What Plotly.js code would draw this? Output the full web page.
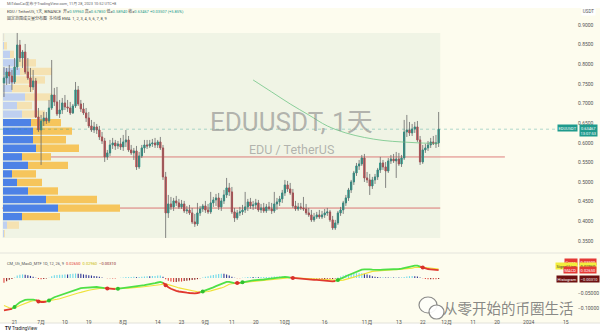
<!DOCTYPE html>
<html>
<head>
<meta charset="utf-8">
<script src="https://cdn.plot.ly/plotly-3.0.1.min.js"></script>
<style>
  html, body { margin: 0; padding: 0; background: #ffffff; }
  #chart { width: 600px; height: 334px; }
</style>
</head>
<body>
<div id="chart"></div>
<script>
// ---- EDU / TetherUS daily candles (Binance) ----
const firstDay = '2023-06-17';

const open = [
  0.7524,0.7651,0.7804,0.7702,0.7549,0.7931,0.8491,0.8160,0.8313,0.7804,
  0.7651,0.7422,0.7575,0.6658,0.6327,0.6556,0.6633,0.6556,0.6887,0.7218,
  0.7040,0.6735,0.6836,0.7015,0.6913,0.6887,0.6760,0.6938,0.7346,0.6989,
  0.6862,0.6760,0.6633,0.6429,0.6327,0.6404,0.6327,0.6149,0.6047,0.5640,
  0.5742,0.5945,0.5996,0.5920,0.5971,0.5894,0.6022,0.6073,0.5818,0.5742,
  0.5793,0.5385,0.5665,0.5869,0.5945,0.5920,0.5971,0.5996,0.5945,0.6022,
  0.5869,0.5131,0.4214,0.4443,0.4367,0.4520,0.4469,0.4367,0.4443,0.4265,
  0.4290,0.4214,0.3985,0.3934,0.4214,0.4316,0.4392,0.4290,0.4240,0.4469,
  0.4545,0.4596,0.4367,0.4520,0.4672,0.4851,0.4749,0.4240,0.4087,0.4214,
  0.4240,0.4290,0.4367,0.4494,0.4392,0.4418,0.4469,0.4290,0.4341,0.4265,
  0.4367,0.4316,0.4265,0.4443,0.4494,0.4571,0.4723,0.4927,0.4825,0.4723,
  0.4392,0.4316,0.4367,0.4341,0.4316,0.4214,0.4163,0.4036,0.4112,0.4163,
  0.4112,0.4163,0.4214,0.4240,0.4036,0.3832,0.3959,0.4214,0.4290,0.4469,
  0.4596,0.4800,0.5003,0.5232,0.5411,0.5462,0.5614,0.5105,0.5054,0.4901,
  0.5054,0.5131,0.5309,0.5487,0.5385,0.5283,0.5538,0.5589,0.5538,0.5589,
  0.5462,0.5614,0.6276,0.6327,0.6251,0.6353,0.6404,0.6073,0.5513,0.5818,
  0.5869,0.5945,0.6022,0.5971,0.5996
];
const high = [
  0.7931,0.7906,0.7982,0.7855,0.8160,0.8797,0.8619,0.8364,0.8517,0.8160,
  0.7906,0.7855,0.7651,0.6887,0.6709,0.6785,0.6785,0.7091,0.8109,0.7397,
  0.7422,0.7091,0.7142,0.7218,0.7091,0.7040,0.6989,0.7549,0.7447,0.7091,
  0.7015,0.6887,0.6785,0.6582,0.6531,0.6480,0.6429,0.6276,0.6124,0.5818,
  0.6073,0.6124,0.6073,0.6047,0.6124,0.6200,0.6327,0.6174,0.5945,0.5869,
  0.5920,0.5767,0.5945,0.6073,0.6073,0.6073,0.6098,0.6124,0.6073,0.6149,
  0.5945,0.5258,0.4672,0.4621,0.4596,0.4647,0.4571,0.4545,0.4520,0.4392,
  0.4418,0.4341,0.4189,0.4469,0.4392,0.4443,0.4520,0.4443,0.4749,0.4621,
  0.4698,0.4723,0.4596,0.4800,0.5105,0.4978,0.4876,0.4341,0.4290,0.4367,
  0.4418,0.4749,0.4571,0.4596,0.4520,0.4571,0.4545,0.4443,0.4469,0.4443,
  0.4494,0.4469,0.4749,0.4596,0.4647,0.4800,0.5054,0.5029,0.4978,0.4825,
  0.4520,0.4469,0.4469,0.4621,0.4443,0.4341,0.4290,0.4214,0.4240,0.4290,
  0.4265,0.4316,0.4341,0.4290,0.4138,0.4036,0.4265,0.4367,0.4520,0.4672,
  0.4851,0.5054,0.5283,0.5487,0.5563,0.5691,0.5716,0.5258,0.5207,0.5131,
  0.5207,0.5360,0.5640,0.5563,0.5513,0.5614,0.5691,0.5716,0.5767,0.5742,
  0.5691,0.6582,0.6709,0.6531,0.6480,0.6531,0.6556,0.6174,0.5945,0.5971,
  0.6047,0.6124,0.6174,0.6200,0.6785
];
const low = [
  0.7167,0.7473,0.7498,0.7346,0.7498,0.7855,0.8058,0.7906,0.7753,0.7600,
  0.7295,0.7346,0.6633,0.6276,0.5436,0.6429,0.6480,0.6505,0.6836,0.6938,
  0.6684,0.6633,0.6735,0.6836,0.6785,0.6709,0.6735,0.6887,0.6938,0.6785,
  0.6709,0.6531,0.6378,0.6276,0.6251,0.6225,0.6073,0.5971,0.5513,0.5563,
  0.5665,0.5844,0.5818,0.5844,0.5818,0.5793,0.5894,0.5767,0.5691,0.5563,
  0.5309,0.5334,0.5614,0.5742,0.5844,0.5869,0.5894,0.5869,0.5869,0.5818,
  0.5054,0.3577,0.4087,0.4290,0.4265,0.4392,0.4316,0.4316,0.4214,0.4189,
  0.4163,0.3934,0.3858,0.3883,0.4138,0.4240,0.4214,0.4189,0.4189,0.4367,
  0.4392,0.4290,0.4265,0.4443,0.4596,0.4647,0.4189,0.3985,0.4036,0.4138,
  0.4163,0.4214,0.4265,0.4316,0.4290,0.4316,0.4240,0.4214,0.4214,0.4214,
  0.4265,0.4189,0.4214,0.4290,0.4392,0.4469,0.4647,0.4749,0.4672,0.4341,
  0.4265,0.4265,0.4290,0.4265,0.4163,0.4112,0.3985,0.3985,0.4061,0.4061,
  0.4061,0.4087,0.4138,0.3985,0.3781,0.3781,0.3909,0.4138,0.4189,0.4392,
  0.4520,0.4723,0.4927,0.5156,0.5309,0.5411,0.5003,0.4978,0.4672,0.4825,
  0.4952,0.5054,0.5232,0.5309,0.4851,0.5232,0.5462,0.5487,0.5105,0.5411,
  0.5385,0.5563,0.6149,0.6174,0.6174,0.6251,0.6022,0.5436,0.5462,0.5742,
  0.5793,0.5869,0.5945,0.5869,0.5894
];
const close = [
  0.7651,0.7804,0.7702,0.7549,0.7931,0.8491,0.8160,0.8313,0.7804,0.7651,
  0.7422,0.7575,0.6658,0.6327,0.6556,0.6633,0.6556,0.6887,0.7218,0.7040,
  0.6735,0.6836,0.7015,0.6913,0.6887,0.6760,0.6938,0.7346,0.6989,0.6862,
  0.6760,0.6633,0.6429,0.6327,0.6404,0.6327,0.6149,0.6047,0.5640,0.5742,
  0.5945,0.5996,0.5920,0.5971,0.5894,0.6022,0.6073,0.5818,0.5742,0.5793,
  0.5385,0.5665,0.5869,0.5945,0.5920,0.5971,0.5996,0.5945,0.6022,0.5869,
  0.5131,0.4214,0.4443,0.4367,0.4520,0.4469,0.4367,0.4443,0.4265,0.4290,
  0.4214,0.3985,0.3934,0.4214,0.4316,0.4392,0.4290,0.4240,0.4469,0.4545,
  0.4596,0.4367,0.4520,0.4672,0.4851,0.4749,0.4240,0.4087,0.4214,0.4240,
  0.4290,0.4367,0.4494,0.4392,0.4418,0.4469,0.4290,0.4341,0.4265,0.4367,
  0.4316,0.4265,0.4443,0.4494,0.4571,0.4723,0.4927,0.4825,0.4723,0.4392,
  0.4316,0.4367,0.4341,0.4316,0.4214,0.4163,0.4036,0.4112,0.4163,0.4112,
  0.4163,0.4214,0.4240,0.4036,0.3832,0.3959,0.4214,0.4290,0.4469,0.4596,
  0.4800,0.5003,0.5232,0.5411,0.5462,0.5614,0.5105,0.5054,0.4901,0.5054,
  0.5131,0.5309,0.5487,0.5385,0.5283,0.5538,0.5589,0.5538,0.5589,0.5462,
  0.5614,0.6276,0.6327,0.6251,0.6353,0.6404,0.6073,0.5513,0.5818,0.5869,
  0.5945,0.6022,0.5971,0.5996,0.63467
];

// long EMA overlay (only drawn from mid-September)
const emaDates  = ['2023-09-19','2023-09-26','2023-10-03','2023-10-10','2023-10-17','2023-10-24',
                   '2023-10-31','2023-11-07','2023-11-14','2023-11-21','2023-11-28'];
const emaValues = [0.7600,0.7295,0.6989,0.6709,0.6429,0.6251,0.6136,0.6060,0.6022,0.5996,0.5983];

// fixed range volume profile, 24 rows from the range low to the range high (M USDT)
const profileUp   = [0.5,2,9.5,27.5,21.5,12.5,7,4.5,12.5,9.5,16.5,15,15,14,9.5,7,11,4.5,5.5,8.5,7,3.5,0.5,0.3];
const profileDown = [0.5,6,19,31,25.5,15,12.5,12,20,14.5,21.5,16.5,19.5,15,11.5,7.5,13.5,10.5,15.5,16,9.5,2,1.5,0.3];

// horizontal level drawn on the chart
const levelPrice = 0.5640;
const levelFrom = '2023-06-20';
const levelTo = '2023-12-23';

// CM_Ult_MacD_MTF (12, 26, 9)
const macdLine = [
  -0.108,-0.107,-0.105,-0.103,-0.097,-0.088,-0.081,-0.076,-0.073,-0.072,
  -0.071,-0.072,-0.074,-0.078,-0.080,-0.080,-0.079,-0.075,-0.069,-0.064,
  -0.061,-0.058,-0.055,-0.052,-0.049,-0.046,-0.042,-0.038,-0.036,-0.034,
  -0.033,-0.032,-0.032,-0.031,-0.030,-0.030,-0.031,-0.032,-0.034,-0.035,
  -0.036,-0.037,-0.037,-0.036,-0.035,-0.033,-0.032,-0.031,-0.030,-0.029,
  -0.029,-0.028,-0.026,-0.024,-0.022,-0.021,-0.019,-0.017,-0.015,-0.013,
  -0.016,-0.024,-0.031,-0.036,-0.040,-0.043,-0.045,-0.047,-0.048,-0.049,
  -0.050,-0.051,-0.051,-0.050,-0.048,-0.045,-0.042,-0.039,-0.035,-0.031,
  -0.027,-0.023,-0.019,-0.016,-0.013,-0.013,-0.015,-0.017,-0.017,-0.016,
  -0.014,-0.012,-0.010,-0.009,-0.008,-0.007,-0.007,-0.006,-0.005,-0.004,
  -0.003,-0.001,0.001,0.002,0.003,0.004,0.004,0.003,0.001,0.000,
  -0.001,-0.001,-0.002,-0.002,-0.003,-0.004,-0.005,-0.006,-0.006,-0.007,
  -0.008,-0.009,-0.009,-0.010,-0.011,-0.010,-0.007,-0.003,0.001,0.006,
  0.010,0.014,0.018,0.022,0.025,0.028,0.029,0.030,0.029,0.028,
  0.027,0.027,0.027,0.028,0.028,0.028,0.029,0.029,0.030,0.030,
  0.031,0.033,0.036,0.038,0.040,0.041,0.041,0.038,0.035,0.032,
  0.030,0.029,0.028,0.027,0.0265
];
const signalLine = [
  -0.092,-0.096,-0.099,-0.100,-0.099,-0.096,-0.092,-0.088,-0.084,-0.081,
  -0.078,-0.076,-0.075,-0.075,-0.076,-0.077,-0.077,-0.076,-0.075,-0.073,
  -0.071,-0.069,-0.066,-0.064,-0.061,-0.059,-0.056,-0.053,-0.050,-0.048,
  -0.045,-0.043,-0.041,-0.039,-0.037,-0.036,-0.035,-0.034,-0.034,-0.034,
  -0.035,-0.035,-0.035,-0.036,-0.036,-0.035,-0.035,-0.034,-0.033,-0.033,
  -0.032,-0.031,-0.030,-0.029,-0.028,-0.027,-0.026,-0.024,-0.023,-0.021,
  -0.020,-0.020,-0.022,-0.024,-0.027,-0.030,-0.033,-0.035,-0.038,-0.040,
  -0.042,-0.044,-0.045,-0.046,-0.047,-0.047,-0.046,-0.045,-0.043,-0.041,
  -0.039,-0.036,-0.033,-0.030,-0.025,-0.021,-0.019,-0.018,-0.0165,-0.0155,
  -0.015,-0.014,-0.013,-0.012,-0.011,-0.010,-0.0095,-0.009,-0.008,-0.007,
  -0.006,-0.005,-0.004,-0.003,-0.002,-0.001,0.000,0.001,0.001,0.001,
  0.0005,0.000,-0.0005,-0.001,-0.0015,-0.002,-0.003,-0.0035,-0.004,-0.0045,
  -0.005,-0.006,-0.0065,-0.007,-0.008,-0.0085,-0.0085,-0.008,-0.007,-0.005,
  -0.003,0.000,0.003,0.006,0.009,0.012,0.015,0.018,0.020,0.022,
  0.023,0.024,0.025,0.0255,0.026,0.0265,0.027,0.0275,0.028,0.0285,
  0.029,0.030,0.031,0.032,0.033,0.035,0.036,0.036,0.0355,0.035,
  0.034,0.033,0.032,0.031,0.0296
];

// time axis labels
const tickDates = ['2023-06-21','2023-07-01','2023-07-10','2023-07-19','2023-08-01','2023-08-14','2023-08-23',
                   '2023-09-01','2023-09-11','2023-09-20','2023-10-01','2023-10-16','2023-11-01','2023-11-13',
                   '2023-11-22','2023-12-01','2023-12-11','2023-12-20','2024-01-01','2024-01-15'];
const tickText  = ['21','7月','10','19','8月','14','23','9月','11','20','10月','16','11月','13','22','12月','11','20','2024','15'];

const priceTicks = [0.35,0.40,0.45,0.50,0.55,0.60,0.65,0.70,0.75,0.80,0.85,0.90];
const macdTicks = [-0.10,-0.05];

// ---------------------------------------------------------------
const UP = '#1f9a8c', DOWN = '#c4464b', WICK = 'rgba(105,105,105,0.8)';
const W = 577, H = 334;                    // plot area in px (right margin holds the price scale)
const px = x => x / W;                     // paper helpers for text placement
const py = y => 1 - y / H;

const DAY = 86400000;
const t0 = Date.parse(firstDay + 'T00:00:00Z');
const dates = open.map((_, i) => new Date(t0 + i * DAY).toISOString().slice(0, 10));
const n = close.length;
const last = n - 1;

// wicks drawn in gray underneath coloured bodies
const wx = [], wy = [];
dates.forEach((d, i) => { wx.push(d, d, null); wy.push(low[i], high[i], null); });
const bodyHi = open.map((o, i) => Math.max(o, close[i]));
const bodyLo = open.map((o, i) => Math.min(o, close[i]));

// volume profile rows
const pLo = Math.min(...low), pHi = Math.max(...high);
const nRows = profileUp.length;
const rowH = (pHi - pLo) / nRows;
const rowMid = profileUp.map((_, k) => pLo + (k + 0.5) * rowH);
const rowTot = profileUp.map((u, k) => u + profileDown[k]);
const totVol = rowTot.reduce((a, b) => a + b, 0);
const poc = rowTot.indexOf(Math.max(...rowTot));
let vaLo = poc, vaHi = poc, acc = rowTot[poc];
while (acc < 0.7 * totVol) {
  const above = vaHi + 1 < nRows ? rowTot[vaHi + 1] : -1;
  const below = vaLo - 1 >= 0 ? rowTot[vaLo - 1] : -1;
  if (above >= below) { vaHi++; acc += above; } else { vaLo--; acc += below; }
}
const inVA = k => k >= vaLo && k <= vaHi;
const upCol = profileUp.map((_, k) => inVA(k) ? '#4d82e6' : '#bfd0f0');
const dnCol = profileDown.map((_, k) => inVA(k) ? '#f6c55c' : '#f5e2b2');
const pocPrice = rowMid[poc];

// MACD derived series
const hist = macdLine.map((m, i) => m - signalLine[i]);
const histCol = hist.map((h, i) => {
  const p = i > 0 ? hist[i - 1] : h;
  if (h >= 0) return h >= p ? '#6fd9ea' : '#2f3796';
  return h <= p ? '#e3443c' : '#8c1f1f';
});
const bull = macdLine.map((m, i) => m >= signalLine[i]);
const gY = macdLine.map(() => null), rY = macdLine.map(() => null);
for (let i = 0; i < n; i++) {
  const tgt = bull[i] ? gY : rY;
  tgt[i] = macdLine[i];
  if (i > 0) tgt[i - 1] = macdLine[i - 1];
}
const crossX = [], crossY = [], crossC = [];
for (let i = 1; i < n; i++) {
  if (bull[i] !== bull[i - 1]) { crossX.push(dates[i]); crossY.push(macdLine[i]); crossC.push(bull[i] ? '#2fc02f' : '#d8302a'); }
}
const lastCross = crossY[crossY.length - 1];

const xStart = '2023-06-15 12:00', xEnd = '2024-01-19 05:00';

const traces = [
  // volume profile (base subplot, underneath the candles)
  { type: 'bar', orientation: 'h', xaxis: 'x', yaxis: 'y', y: rowMid, x: profileUp,
    width: rowH * 0.86, marker: { color: upCol, line: { width: 0 } }, hoverinfo: 'skip' },
  { type: 'bar', orientation: 'h', xaxis: 'x', yaxis: 'y', y: rowMid, x: profileDown, base: profileUp,
    width: rowH * 0.86, marker: { color: dnCol, line: { width: 0 } }, hoverinfo: 'skip' },
  // EMA
  { type: 'scatter', mode: 'lines', xaxis: 'x2', yaxis: 'y', x: emaDates, y: emaValues,
    line: { color: 'rgba(120,200,140,0.85)', width: 1, shape: 'spline' }, hoverinfo: 'skip' },
  // wicks
  { type: 'scatter', mode: 'lines', xaxis: 'x2', yaxis: 'y', x: wx, y: wy,
    line: { color: WICK, width: 1 }, hoverinfo: 'skip' },
  // bodies
  { type: 'candlestick', xaxis: 'x2', yaxis: 'y', x: dates, open: open, close: close, high: bodyHi, low: bodyLo,
    increasing: { line: { color: UP, width: 1 }, fillcolor: UP },
    decreasing: { line: { color: DOWN, width: 1 }, fillcolor: DOWN },
    whiskerwidth: 0, hoverinfo: 'skip' },
  // MACD pane
  { type: 'bar', xaxis: 'x3', yaxis: 'y2', x: dates, y: hist, width: 0.42 * DAY,
    marker: { color: histCol, line: { width: 0 } }, hoverinfo: 'skip' },
  { type: 'scatter', mode: 'lines', xaxis: 'x3', yaxis: 'y2', x: dates, y: signalLine,
    line: { color: '#efe23a', width: 1.1 }, hoverinfo: 'skip' },
  { type: 'scatter', mode: 'lines', xaxis: 'x3', yaxis: 'y2', x: dates, y: gY, connectgaps: false,
    line: { color: '#4fe046', width: 1.8 }, hoverinfo: 'skip' },
  { type: 'scatter', mode: 'lines', xaxis: 'x3', yaxis: 'y2', x: dates, y: rY, connectgaps: false,
    line: { color: '#e0392f', width: 1.8 }, hoverinfo: 'skip' },
  { type: 'scatter', mode: 'markers', xaxis: 'x3', yaxis: 'y2', x: crossX, y: crossY,
    marker: { color: crossC, size: 4 }, hoverinfo: 'skip' }
];

const fmt = v => v.toFixed(5);
const chg = close[last] - close[last - 1];
const pct = chg / close[last - 1] * 100;
const sign = v => (v >= 0 ? '+' : '−') + Math.abs(v).toFixed(5);
const lastCol = close[last] >= open[last] ? UP : DOWN;
const v = s => `<span style="color:${lastCol}">${s}</span>`;
const header1 = `EDU / TetherUS, 1天, BINANCE  开=${v(fmt(open[last]))} 高=${v(fmt(high[last]))} 低=${v(fmt(low[last]))} 收=${v(fmt(close[last]))} ${v(sign(chg) + ' (' + (pct >= 0 ? '+' : '−') + Math.abs(pct).toFixed(2) + '%)')}`;
const header2 = '固定范围成交量分布图  多均线 EMA  1, 2, 3, 4, 5, 6, 7, 8, 9';
const macdLeg = `CM_Ult_MacD_MTF 1D, 12, 26, 9  <span style="color:#e0392f">${fmt(macdLine[last])}</span>  ` +
                `<span style="color:#c9b800">${fmt(signalLine[last])}</span>  <span style="color:#8c1f1f">${sign(hist[last]).replace('+','')}</span>`;

const smallBox = (txt, bg, fg, y, yref, xa, x, ysh) => ({
  xref: 'paper', yref: yref, x: x, y: y, xanchor: xa, yanchor: 'middle', yshift: ysh || 0,
  text: txt, showarrow: false, bgcolor: bg, borderpad: 0.6,
  font: { size: 4, color: fg }
});

const annotations = [
  { xref: 'paper', yref: 'paper', x: px(5), y: py(4), xanchor: 'left', yanchor: 'middle', showarrow: false,
    text: 'MiTdaoCai发布于TradingView.com, 11月 28, 2023 10:52 UTC+8', font: { size: 3.9, color: '#666' } },
  { xref: 'paper', yref: 'paper', x: px(5), y: py(11.5), xanchor: 'left', yanchor: 'middle', showarrow: false,
    text: header1, font: { size: 4, color: '#444' } },
  { xref: 'paper', yref: 'paper', x: px(5), y: py(17.5), xanchor: 'left', yanchor: 'middle', showarrow: false,
    text: header2, font: { size: 4, color: '#444' } },
  { xref: 'paper', yref: 'paper', x: px(291), y: py(122), xanchor: 'center', yanchor: 'middle', showarrow: false,
    text: 'EDUUSDT, 1天', font: { size: 26, color: 'rgba(130,130,130,0.58)', family: "Roboto, 'Noto Sans CJK SC', sans-serif" } },
  { xref: 'paper', yref: 'paper', x: px(291), y: py(149), xanchor: 'center', yanchor: 'middle', showarrow: false,
    text: 'EDU / TetherUS', font: { size: 12.5, color: 'rgba(130,130,130,0.58)', family: "Roboto, 'Noto Sans CJK SC', sans-serif" } },
  { xref: 'paper', yref: 'paper', x: px(588), y: py(12), xanchor: 'center', yanchor: 'middle', showarrow: false,
    text: 'USDT', font: { size: 4.5, color: '#555' }, bgcolor: '#ffffff', borderpad: 0.8 },
  smallBox('EDUUSDT', UP, '#ffffff', close[last], 'y', 'right', px(578), 1),
  smallBox(fmt(close[last]) + '<br>13:07:53', UP, '#ffffff', close[last], 'y', 'left', px(579), -1),
  { xref: 'paper', yref: 'paper', x: px(5), y: py(263), xanchor: 'left', yanchor: 'middle', showarrow: false,
    text: macdLeg, font: { size: 4, color: '#555' } },
  smallBox('Cross', '#e53935', '#ffffff', macdLine[last], 'y2', 'right', px(578), 8),
  smallBox(fmt(lastCross), '#e53935', '#ffffff', macdLine[last], 'y2', 'left', px(579), 8),
  smallBox('Signal Line', '#f3ee3c', '#333333', macdLine[last], 'y2', 'right', px(578), 4),
  smallBox(fmt(signalLine[last]), '#f3ee3c', '#333333', macdLine[last], 'y2', 'left', px(579), 4),
  smallBox('MACD', '#e53935', '#ffffff', macdLine[last], 'y2', 'right', px(578), 0),
  smallBox(fmt(macdLine[last]), '#e53935', '#ffffff', macdLine[last], 'y2', 'left', px(579), 0),
  smallBox('Histogram', '#6d1010', '#ffffff', hist[last], 'y2', 'right', px(578), 0),
  smallBox(sign(hist[last]).replace('+', ''), '#6d1010', '#ffffff', hist[last], 'y2', 'left', px(579), 0),
  { xref: 'paper', yref: 'paper', x: px(3), y: py(328.5), xanchor: 'left', yanchor: 'middle', showarrow: false,
    text: '<b>TV</b> TradingView', font: { size: 4.6, color: '#222' } },
  { xref: 'paper', yref: 'paper', x: px(508), y: py(307), xanchor: 'center', yanchor: 'middle', showarrow: false,
    text: '从零开始的币圈生活', font: { size: 14.5, color: 'rgba(105,105,105,0.8)', family: "'Noto Sans CJK SC', sans-serif" } }
];

const shapes = [
  // header strip and bottom strip
  { type: 'rect', xref: 'paper', yref: 'paper', x0: -0.01, x1: 1.05, y0: py(8), y1: 1.01,
    fillcolor: '#ffffff', line: { width: 0 }, layer: 'below' },
  { type: 'rect', xref: 'paper', yref: 'paper', x0: -0.01, x1: 1.05, y0: -0.01, y1: py(323),
    fillcolor: '#ffffff', line: { width: 0 }, layer: 'below' },
  { type: 'line', xref: 'paper', yref: 'paper', x0: 0, x1: 1.05, y0: py(323), y1: py(323),
    line: { color: '#e2e2da', width: 1 }, layer: 'below' },
  { type: 'line', xref: 'paper', yref: 'paper', x0: 0, x1: 1.05, y0: py(253), y1: py(253),
    line: { color: '#e4e4dc', width: 1 }, layer: 'below' },
  // fixed-range profile area
  { type: 'rect', xref: 'x2', yref: 'y', x0: t0 - 0.6 * DAY, x1: t0 + (last + 0.6) * DAY, y0: pLo, y1: pHi,
    fillcolor: '#f0f4e5', line: { width: 0 }, layer: 'below' },
  // POC line
  { type: 'line', xref: 'x2', yref: 'y', x0: t0 - 0.6 * DAY, x1: t0 + (last + 0.6) * DAY, y0: pocPrice, y1: pocPrice,
    line: { color: 'rgba(214,96,96,0.85)', width: 1 }, layer: 'below' },
  // drawn level
  { type: 'line', xref: 'x2', yref: 'y', x0: levelFrom, x1: levelTo, y0: levelPrice, y1: levelPrice,
    line: { color: 'rgba(214,96,96,0.8)', width: 1 }, layer: 'below' },
  // last price line
  { type: 'line', xref: 'paper', yref: 'y', x0: 0, x1: 1, y0: close[last], y1: close[last],
    line: { color: 'rgba(34,153,140,0.35)', width: 1, dash: 'dot' }, layer: 'above' },
  // WeChat-style mark next to the channel name
  { type: 'circle', xref: 'paper', yref: 'paper', x0: px(419), x1: px(437), y0: py(313), y1: py(297),
    line: { color: 'rgba(110,110,110,0.8)', width: 1.2 }, fillcolor: 'rgba(255,255,255,0.6)', layer: 'above' },
  { type: 'circle', xref: 'paper', yref: 'paper', x0: px(429), x1: px(444), y0: py(319), y1: py(305),
    line: { color: 'rgba(110,110,110,0.8)', width: 1.2 }, fillcolor: 'rgba(255,255,255,0.9)', layer: 'above' }
];

const layout = {
  width: 600, height: 334,
  margin: { l: 0, r: 23, t: 0, b: 0, pad: 0 },
  paper_bgcolor: '#fdfcee',
  plot_bgcolor: '#fdfcee',
  showlegend: false,
  barmode: 'overlay',
  hovermode: false,
  font: { family: "Roboto, 'Noto Sans CJK SC', sans-serif", color: '#555' },
  xaxis:  { domain: [0, 1], range: [-1.5, 287], visible: false, fixedrange: true, anchor: 'y' },
  xaxis2: { type: 'date', overlaying: 'x', anchor: 'y', range: [xStart, xEnd], visible: false,
            rangeslider: { visible: false }, showgrid: false },
  xaxis3: { type: 'date', anchor: 'y2', range: [xStart, xEnd], showgrid: false, zeroline: false, showline: false,
            ticks: '', tickmode: 'array', tickvals: tickDates, ticktext: tickText,
            tickfont: { size: 5, color: '#555' }, rangeslider: { visible: false } },
  yaxis:  { domain: [py(250), py(8)], range: [0.3270, 0.9433], side: 'right', anchor: 'x',
            showgrid: false, zeroline: false, showline: false, ticks: '',
            tickmode: 'array', tickvals: priceTicks, ticktext: priceTicks.map(p => p.toFixed(4)),
            tickfont: { size: 5, color: '#555' } },
  yaxis2: { domain: [py(318), py(256)], range: [-0.1333, 0.0733], side: 'right', anchor: 'x3',
            showgrid: false, zeroline: false, showline: false, ticks: '',
            tickmode: 'array', tickvals: macdTicks, ticktext: macdTicks.map(t => '−' + Math.abs(t).toFixed(5)),
            tickfont: { size: 5, color: '#555' } },
  annotations: annotations,
  shapes: shapes
};

Plotly.newPlot('chart', traces, layout, { staticPlot: true, displayModeBar: false });
</script>
</body>
</html>
